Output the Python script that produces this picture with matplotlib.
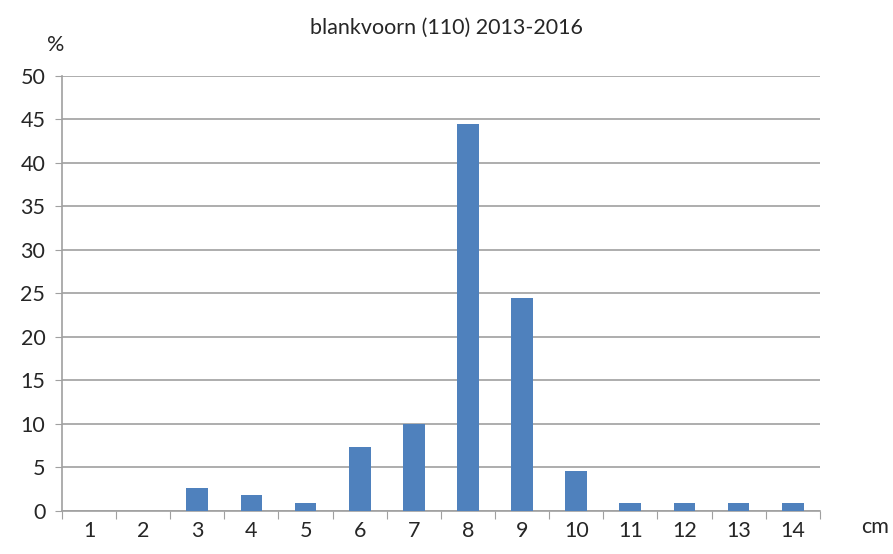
import numpy as np
import matplotlib.pyplot as plt

plt.rcParams['font.family'] = ['Lato', 'DejaVu Sans']

# lengteklassen (cm) en percentages
lengtes = np.arange(1, 15)
percentages = [0, 0, 2.7, 1.8, 0.9, 7.3, 10.0, 44.5, 24.5, 4.6, 0.9, 0.9, 0.9, 0.9]
titel = 'blankvoorn (110) 2013-2016'

fig = plt.figure(figsize=(8.93, 5.54), dpi=100)
ax = fig.add_axes([0.0694, 0.0776, 0.8486, 0.7854])

ax.bar(lengtes, percentages, width=0.4, color='#4F81BD', zorder=3)

ax.set_xlim(0.5, 14.5)
ax.set_ylim(0, 50)
ax.set_yticks(np.arange(0, 51, 5))
ax.yaxis.grid(True, color='#A0A0A0', linewidth=1.2, zorder=0)

# ticks tussen de categorieën, labels in het midden
ax.set_xticks(np.arange(0.5, 15, 1))
ax.set_xticklabels([])
ax.set_xticks(lengtes, minor=True)
ax.set_xticklabels([str(v) for v in lengtes], minor=True)
ax.tick_params(axis='x', which='major', direction='out', length=6, color='#A0A0A0')
ax.tick_params(axis='x', which='minor', length=0, pad=7, labelsize=15.5, labelcolor='#262626')
ax.tick_params(axis='y', length=5, color='#A0A0A0', labelsize=15.5, labelcolor='#262626', pad=7)

for s in ['top', 'right']:
    ax.spines[s].set_visible(False)
for s in ['left', 'bottom']:
    ax.spines[s].set_color('#A0A0A0')
    ax.spines[s].set_linewidth(1.2)

fig.text(0.5, 0.95, titel, ha='center', va='center', fontsize=15.5, color='#262626')
fig.text(0.062, 0.918, '%', ha='center', va='center', fontsize=15.5, color='#262626')
fig.text(0.98, 0.048, 'cm', ha='center', va='center', fontsize=15.5, color='#262626')

fig.savefig('out.png', dpi=100)
